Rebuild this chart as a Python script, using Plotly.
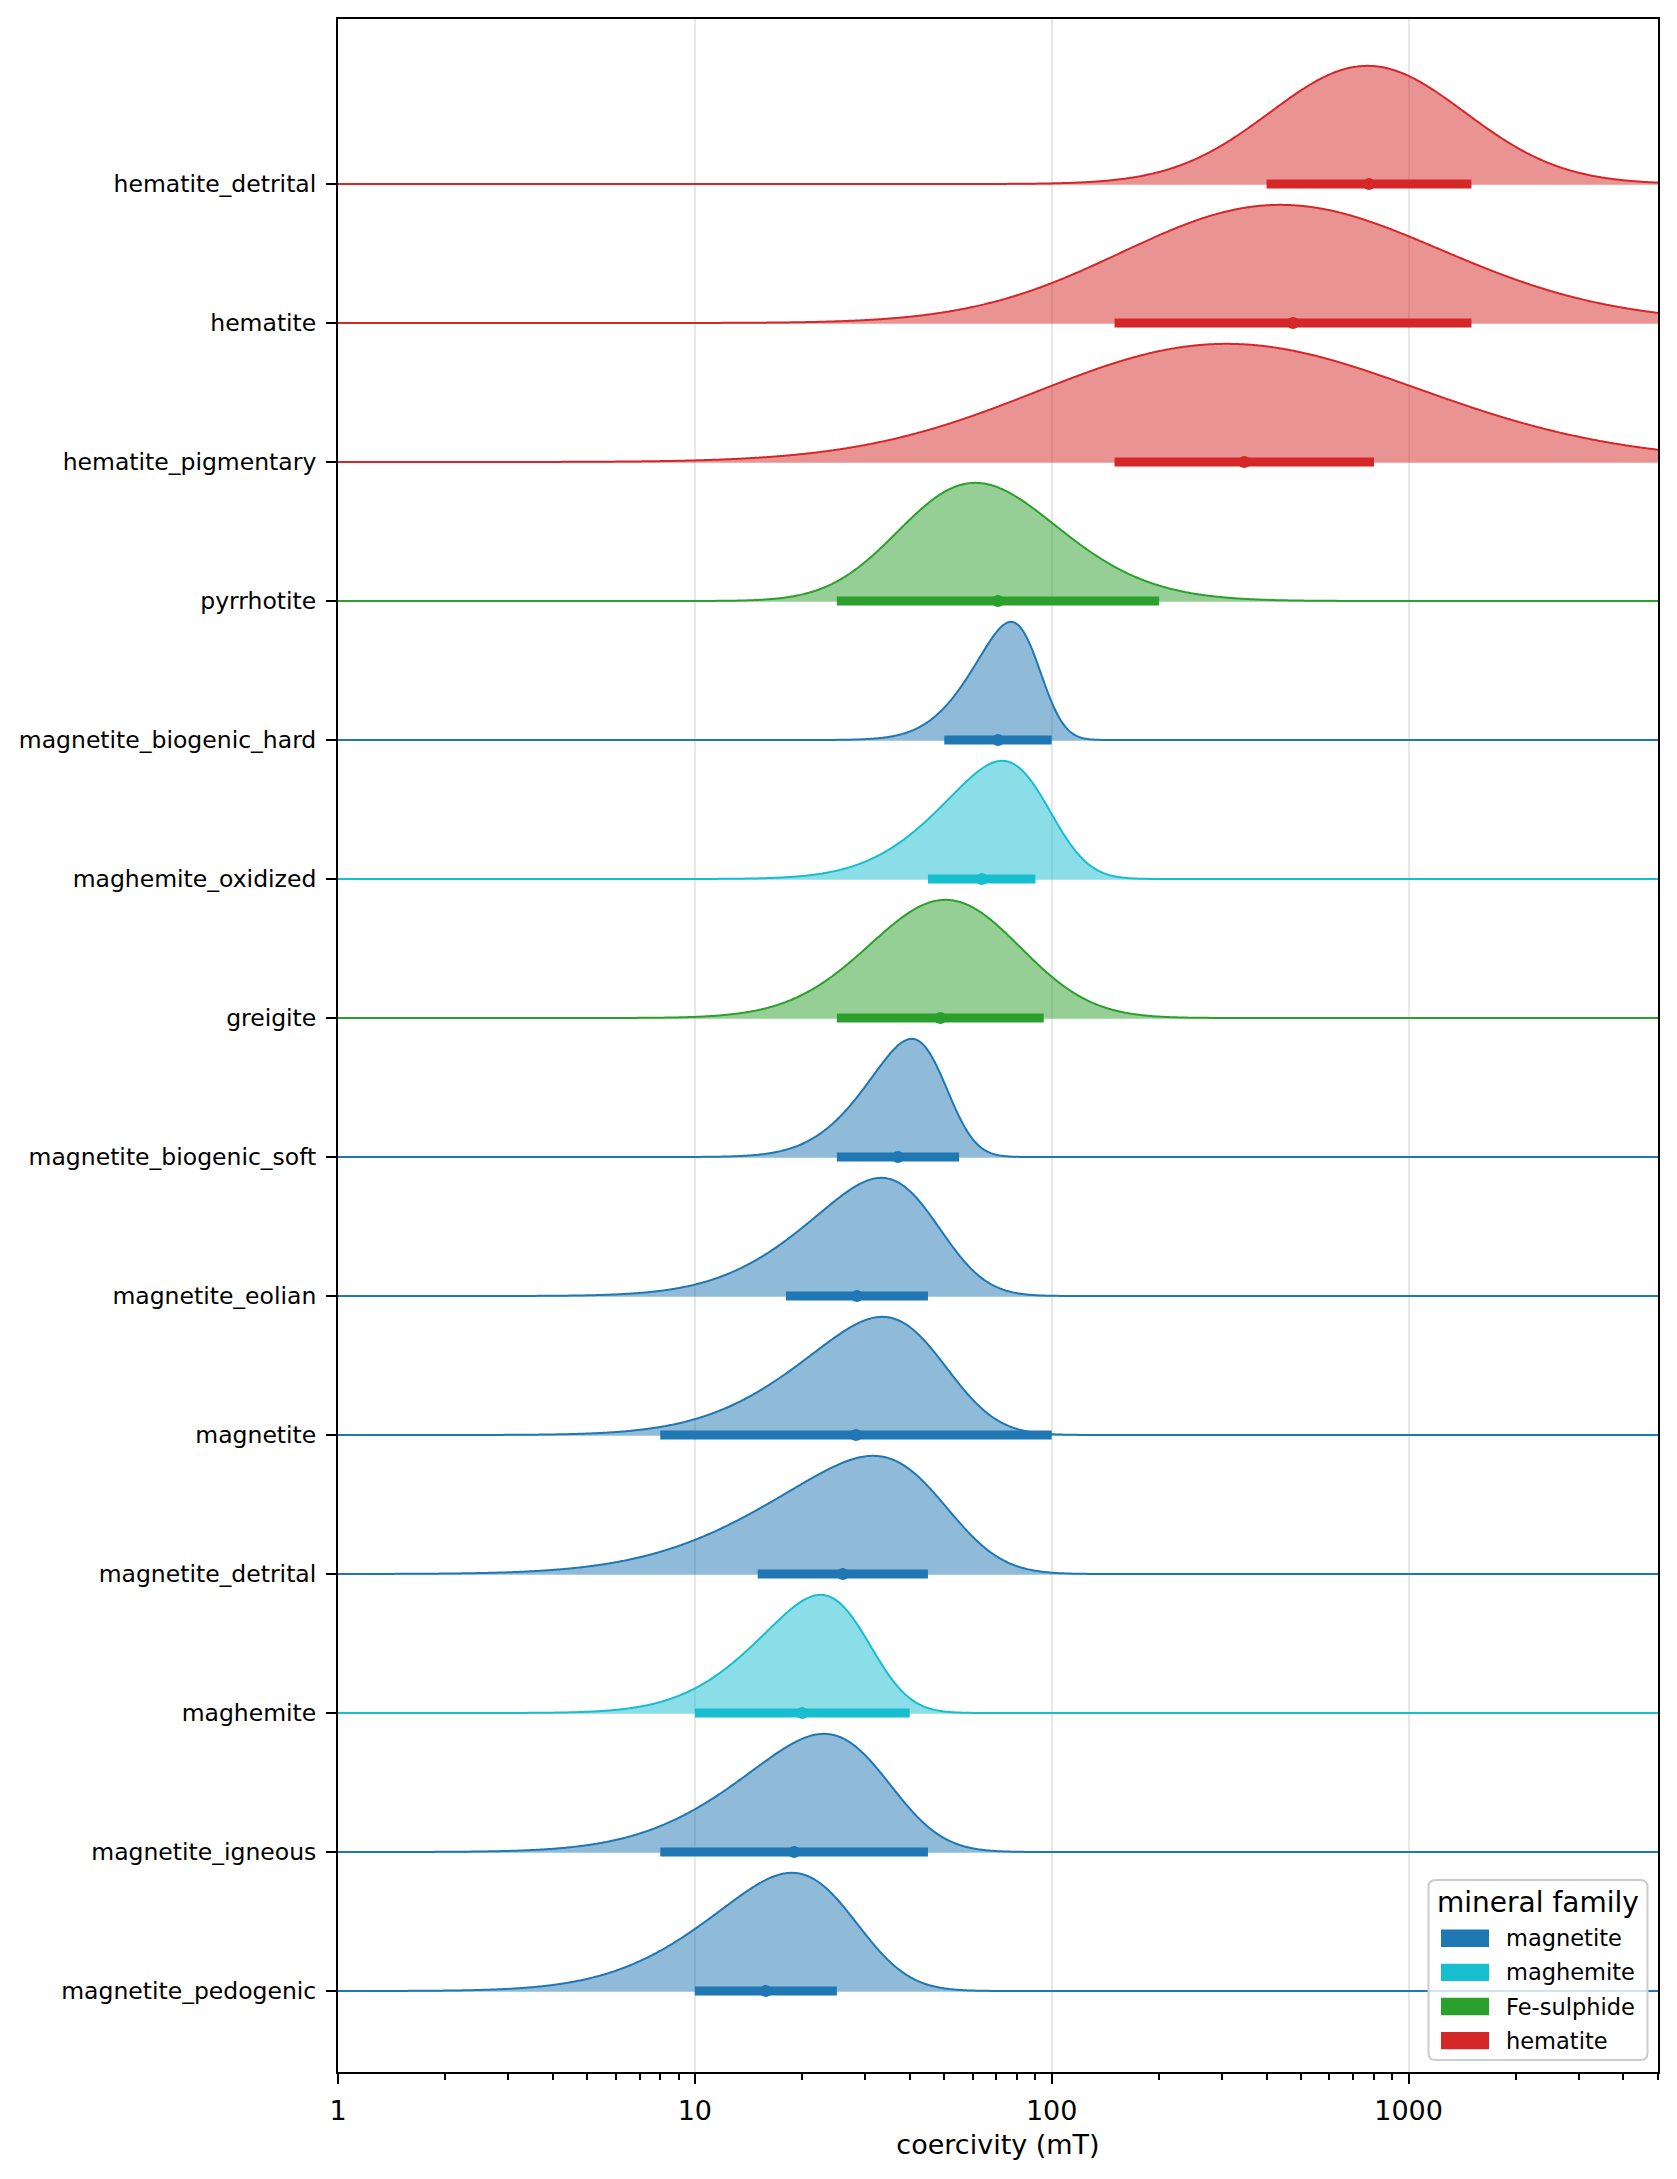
import math
import numpy as np
import plotly.graph_objects as go

# ---------------- data (rows listed bottom -> top) ----------------
minerals = [
    "magnetite_pedogenic", "magnetite_igneous", "maghemite", "magnetite_detrital",
    "magnetite", "magnetite_eolian", "magnetite_biogenic_soft", "greigite",
    "maghemite_oxidized", "magnetite_biogenic_hard", "pyrrhotite",
    "hematite_pigmentary", "hematite", "hematite_detrital",
]
families = [
    "magnetite", "magnetite", "maghemite", "magnetite",
    "magnetite", "magnetite", "magnetite", "Fe-sulphide",
    "maghemite", "magnetite", "Fe-sulphide",
    "hematite", "hematite", "hematite",
]
# peak of the coercivity distribution (mT)
peak_mT = [18.7, 23.0, 22.5, 31.6, 33.5, 33.3, 40.5, 50.4, 72.6, 76.9, 61.1, 309.0, 437.0, 767.0]
# dispersion (log10 units) and skewness of the distribution
dispersion = [0.33, 0.335, 0.252, 0.409, 0.325, 0.296, 0.18, 0.26, 0.244, 0.15, 0.311, 0.657, 0.551, 0.273]
skewness = [-2.5, -2.5, -2.5, -3.0, -2.5, -2.5, -2.5, -1.0, -2.5, -2.5, 1.5, 1.0, 1.0, 0.0]
# typical coercivity range (mT)
range_lo = [10, 8, 10, 15, 8, 18, 25, 25, 45, 50, 25, 150, 150, 400]
range_hi = [25, 45, 40, 45, 100, 45, 55, 95, 90, 100, 200, 800, 1500, 1500]

legend_families = ["magnetite", "maghemite", "Fe-sulphide", "hematite"]
family_colors = {
    "magnetite": "#1f77b4",
    "maghemite": "#17becf",
    "Fe-sulphide": "#2ca02c",
    "hematite": "#d62728",
}
X_MAX = 5000.0
RIDGE_HEIGHT = 0.85
FILL_UNDERHANG = 0.006  # fill reaches a hair below the baseline (anti-aliased edge look)


def rgba(hex_color, a):
    h = hex_color.lstrip("#")
    r, g, b = int(h[0:2], 16), int(h[2:4], 16), int(h[4:6], 16)
    return f"rgba({r},{g},{b},{a})"


_erf = np.vectorize(math.erf)


def skew_shape(z, a):
    return np.exp(-0.5 * z * z) * 0.5 * (1.0 + _erf(a * z / math.sqrt(2.0)))


xs = np.logspace(0, math.log10(X_MAX), 1200)
lx = np.log10(xs)
zgrid = np.linspace(-4, 4, 8001)

fig = go.Figure()

for i, name in enumerate(minerals):
    col = family_colors[families[i]]
    a = skewness[i]
    w = dispersion[i]
    sg = skew_shape(zgrid, a)
    k = int(np.argmax(sg))
    mode_z, fmax = zgrid[k], sg[k]
    xi = math.log10(peak_mT[i]) - mode_z * w
    dens = RIDGE_HEIGHT * skew_shape((lx - xi) / w, a) / fmax
    ycurve = i + dens

    fig.add_trace(go.Scatter(
        x=np.concatenate([xs, xs[::-1]]),
        y=np.concatenate([ycurve, np.full_like(xs, i - FILL_UNDERHANG)]),
        fill="toself", fillcolor=rgba(col, 0.5),
        line=dict(width=0, simplify=False), mode="lines",
        hoverinfo="skip", showlegend=False,
    ))
    fig.add_trace(go.Scatter(
        x=xs, y=ycurve, mode="lines",
        line=dict(color=col, width=2, simplify=False),
        hoverinfo="skip", showlegend=False,
    ))

for i, name in enumerate(minerals):
    col = family_colors[families[i]]
    lo, hi = range_lo[i], range_hi[i]
    fig.add_trace(go.Scatter(
        x=[lo, hi], y=[i, i], mode="lines",
        line=dict(color=col, width=9),
        hoverinfo="skip", showlegend=False,
    ))
    fig.add_trace(go.Scatter(
        x=[math.sqrt(lo * hi)], y=[i], mode="markers",
        marker=dict(color=col, size=12, line=dict(width=0)),
        hoverinfo="skip", showlegend=False,
    ))

# ---------------- layout ----------------
W, H = 1677, 2179
ML, MR, MT, MB = 338, 19, 19, 107
PW, PH = W - ML - MR, H - MT - MB
ROW_PX = 139.0          # pixels per row, so every baseline falls on a whole pixel
TOP_GAP_PX = 165.0      # from the top spine to the uppermost baseline
y_top = (len(minerals) - 1) + TOP_GAP_PX / ROW_PX
y_bottom = y_top - PH / ROW_PX


def px_x(p):
    return (p - ML) / PW


def px_y(p):
    return (H - MB - p) / PH


minor_vals = [m * 10 ** d for d in range(0, 4) for m in range(2, 10) if m * 10 ** d <= X_MAX]

fig.update_layout(
    width=W, height=H,
    margin=dict(l=ML, r=MR, t=MT, b=MB),
    paper_bgcolor="white", plot_bgcolor="white",
    font=dict(family="DejaVu Sans", color="black"),
    showlegend=False,
    xaxis=dict(
        type="log", range=[0, math.log10(X_MAX)],
        tickvals=[1, 10, 100, 1000], ticktext=["1", "10", "100", "1000"],
        ticks="outside", ticklen=10, tickwidth=2, tickcolor="black",
        tickfont=dict(size=27, family="DejaVu Sans"),
        ticklabelstandoff=4,
        showgrid=True, gridcolor="#e7e7e7", gridwidth=1.8,
        minor=dict(tickvals=minor_vals, ticks="outside", ticklen=6, tickwidth=1.5,
                   tickcolor="black", showgrid=False),
        showline=True, linecolor="black", linewidth=2, mirror=True,
        zeroline=False,
        title=dict(text="coercivity (mT)", font=dict(size=27, family="DejaVu Sans"), standoff=10),
    ),
    yaxis=dict(
        range=[y_bottom, y_top],
        tickvals=list(range(len(minerals))), ticktext=minerals,
        ticks="outside", ticklen=10, tickwidth=2, tickcolor="black",
        tickfont=dict(size=23.5, family="DejaVu Sans"),
        ticklabelstandoff=5,
        showgrid=False, zeroline=False,
        showline=True, linecolor="black", linewidth=2, mirror=True,
    ),
)

# ---------------- legend (drawn manually to match box style) ----------------
bx0, bx1 = px_x(1428.5), px_x(1647.5)
by0, by1 = px_y(2060), px_y(1880)
rx, ry = 7 / PW, 7 / PH
box_path = (
    f"M {bx0+rx},{by0} L {bx1-rx},{by0} Q {bx1},{by0} {bx1},{by0+ry} "
    f"L {bx1},{by1-ry} Q {bx1},{by1} {bx1-rx},{by1} "
    f"L {bx0+rx},{by1} Q {bx0},{by1} {bx0},{by1-ry} "
    f"L {bx0},{by0+ry} Q {bx0},{by0} {bx0+rx},{by0} Z"
)
shapes = [dict(type="path", path=box_path, xref="paper", yref="paper",
               fillcolor="rgba(255,255,255,0.8)", line=dict(color="#cccccc", width=2),
               layer="above")]
annotations = [dict(text="mineral family", x=(bx0 + bx1) / 2, y=px_y(1902),
                    xref="paper", yref="paper", showarrow=False,
                    xanchor="center", yanchor="middle",
                    font=dict(size=28, family="DejaVu Sans", color="black"))]
for j, fam in enumerate(legend_families):
    cy = 1938.2 + j * 34.15
    shapes.append(dict(type="rect", xref="paper", yref="paper",
                       x0=px_x(1441), x1=px_x(1489), y0=px_y(cy + 8.7), y1=px_y(cy - 8.7),
                       fillcolor=family_colors[fam], line=dict(width=0), layer="above"))
    annotations.append(dict(text=fam, x=px_x(1504), y=px_y(cy), xref="paper", yref="paper",
                            showarrow=False, xanchor="left", yanchor="middle",
                            font=dict(size=22.5, family="DejaVu Sans", color="black")))

fig.update_layout(shapes=shapes, annotations=annotations)

fig.write_html("out.html")
